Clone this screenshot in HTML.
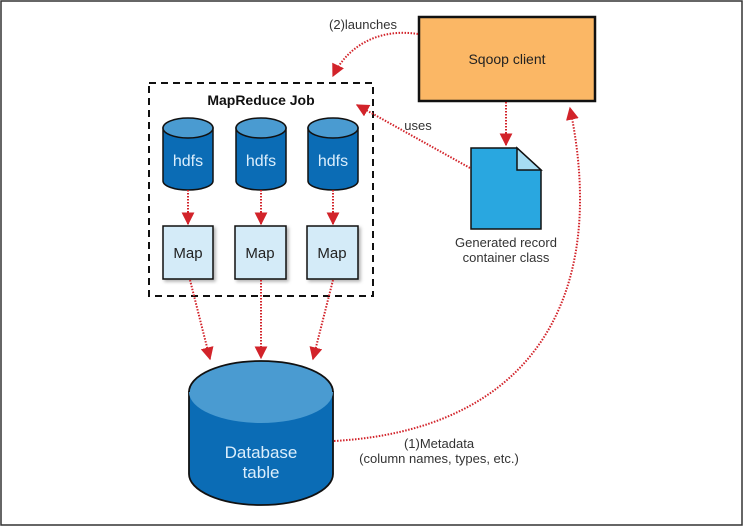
<!DOCTYPE html>
<html><head><style>
html,body{margin:0;padding:0;background:#fff;}
svg{display:block;}
text{font-family:"Liberation Sans Narrow","Liberation Sans",sans-serif;}
</style></head><body>
<svg width="743" height="526" viewBox="0 0 743 526" xmlns="http://www.w3.org/2000/svg">
<defs>
<marker id="a" viewBox="0 0 10 10" refX="9" refY="5" markerWidth="13" markerHeight="13" orient="auto" markerUnits="userSpaceOnUse"><path d="M0,0 L10,5 L0,10 z" fill="#d2232a"/></marker>
<filter id="sh"><feDropShadow dx="2" dy="2" stdDeviation="1.5" flood-color="#000" flood-opacity="0.3"/></filter>
</defs>
<rect x="1" y="1" width="741" height="524" fill="#fff" stroke="#333" stroke-width="1.5"/>

<rect x="419" y="17" width="176" height="84" fill="#fbb765" stroke="#111" stroke-width="2.5"/>
<text x="507" y="64" font-size="14" text-anchor="middle" fill="#222">Sqoop client</text>

<rect x="149" y="83" width="224" height="213" fill="none" stroke="#111" stroke-width="2" stroke-dasharray="7,5"/>
<text x="261" y="105" font-size="14" font-weight="bold" text-anchor="middle" fill="#111">MapReduce Job</text>

<g id="c">
<path d="M163,128 L163,181 A25,9 0 0 0 213,181 L213,128 Z" fill="#0b6cb5" stroke="#111" stroke-width="1.5"/>
<ellipse cx="188" cy="128" rx="25" ry="10" fill="#4a9bd1" stroke="#111" stroke-width="1.5"/>
<text x="188" y="166" font-size="16" text-anchor="middle" fill="#dbeefc">hdfs</text>
</g>
<use href="#c" x="73"/>
<use href="#c" x="145"/>

<g filter="url(#sh)">
<rect x="163" y="226" width="50" height="53" fill="#d4ebf8" stroke="#111" stroke-width="1.5"/>
<rect x="235" y="226" width="51" height="53" fill="#d4ebf8" stroke="#111" stroke-width="1.5"/>
<rect x="307" y="226" width="51" height="53" fill="#d4ebf8" stroke="#111" stroke-width="1.5"/>
</g>
<text x="188" y="258" font-size="15" text-anchor="middle" fill="#222">Map</text>
<text x="260" y="258" font-size="15" text-anchor="middle" fill="#222">Map</text>
<text x="332" y="258" font-size="15" text-anchor="middle" fill="#222">Map</text>

<path d="M471,148 L517,148 L541,170 L541,229 L471,229 Z" fill="#29a7e0" stroke="#111" stroke-width="1.5"/>
<path d="M517,148 L517,170 L541,170 Z" fill="#a6dcf2" stroke="#111" stroke-width="1.5"/>
<text x="506" y="247" font-size="13" text-anchor="middle" fill="#333">Generated record</text>
<text x="506" y="262" font-size="13" text-anchor="middle" fill="#333">container class</text>

<path d="M189,392 L189,474 A72,31 0 0 0 333,474 L333,392 Z" fill="#0b6cb5" stroke="#111" stroke-width="1.8"/>
<ellipse cx="261" cy="392" rx="72" ry="31" fill="#4a9bd1"/>
<path d="M189,392 A72,31 0 0 1 333,392" fill="none" stroke="#111" stroke-width="1.8"/>
<text x="261" y="458" font-size="17" text-anchor="middle" fill="#dbeefc">Database</text>
<text x="261" y="478" font-size="17" text-anchor="middle" fill="#dbeefc">table</text>

<g fill="none" stroke="#d2232a" stroke-width="2" stroke-dasharray="1.5,1.5">
<path d="M418,34 C380,28 348,45 333,76" marker-end="url(#a)"/>
<path d="M470,168 L357,105" marker-end="url(#a)"/>
<path d="M506,102 L506,145" marker-end="url(#a)"/>
<path d="M188,190 L188,224" marker-end="url(#a)"/>
<path d="M261,190 L261,224" marker-end="url(#a)"/>
<path d="M333,190 L333,224" marker-end="url(#a)"/>
<path d="M190,280 L210,359" marker-end="url(#a)"/>
<path d="M261,280 L261,358" marker-end="url(#a)"/>
<path d="M333,280 L313,359" marker-end="url(#a)"/>
<path d="M334,441 C530,430 610,300 570,108" marker-end="url(#a)"/>
</g>
<text x="363" y="29" font-size="13" text-anchor="middle" fill="#333">(2)launches</text>
<text x="418" y="130" font-size="13" text-anchor="middle" fill="#333">uses</text>
<text x="439" y="448" font-size="13" text-anchor="middle" fill="#333">(1)Metadata</text>
<text x="439" y="463" font-size="13" text-anchor="middle" fill="#333">(column names, types, etc.)</text>
</svg>
</body></html>
